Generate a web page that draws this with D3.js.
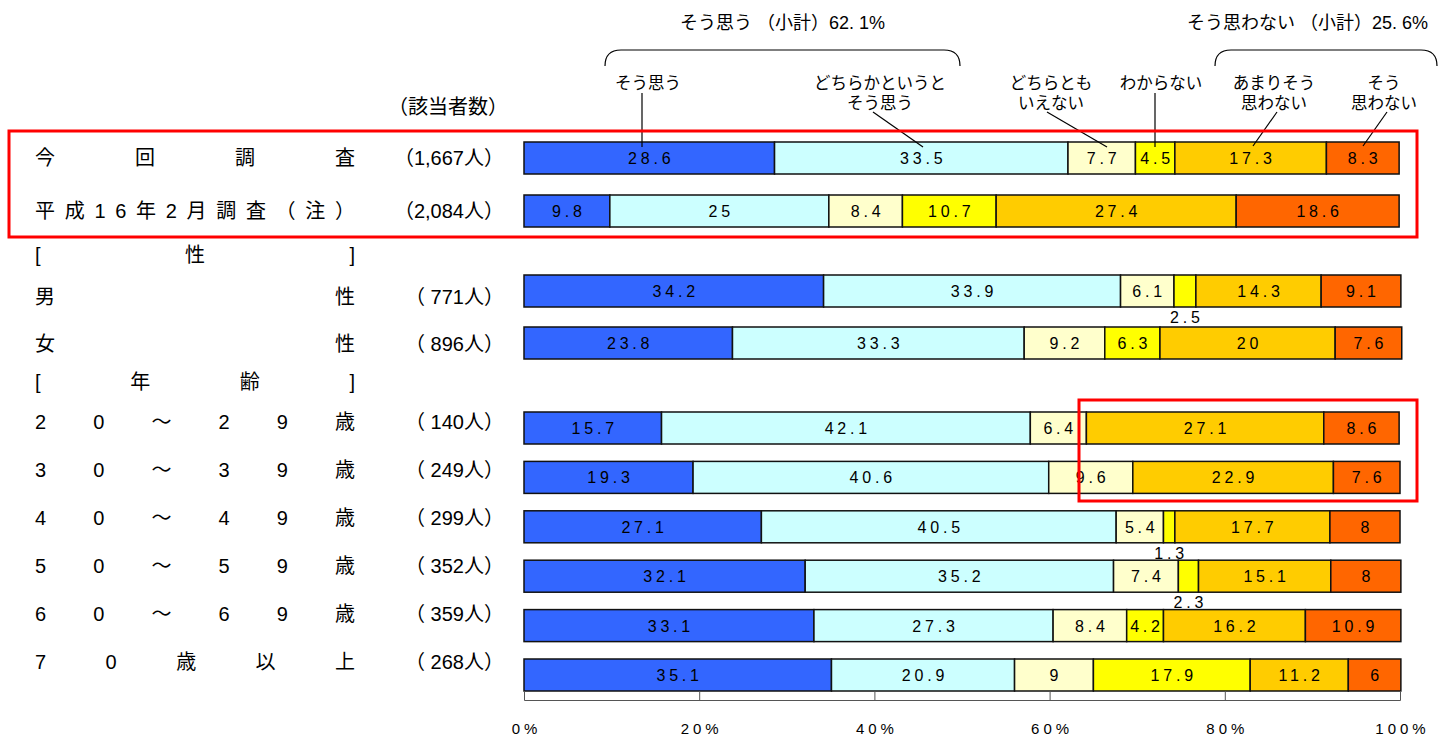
<!DOCTYPE html>
<html><head><meta charset="utf-8">
<script src="https://cdn.jsdelivr.net/npm/d3@7"></script>
<style>
body{margin:0;background:#fff}
svg{display:block}
text{fill:#000}
</style>
</head><body>
<svg id="chart" width="1453" height="740"></svg>
<script>
// ---- data ----
const categories = ["今回調査","平成16年2月調査（注）","男性","女性","20～29歳","30～39歳","40～49歳","50～59歳","60～69歳","70歳以上"];
const counts = ["（1,667人）","（2,084人）","（ 771人）","（ 896人）","（ 140人）","（ 249人）","（ 299人）","（ 352人）","（ 359人）","（ 268人）"];
const seriesNames = ["そう思う","どちらかというとそう思う","どちらともいえない","わからない","あまりそう思わない","そう思わない"];
const soOmou      = [28.6,  9.8, 34.2, 23.8, 15.7, 19.3, 27.1, 32.1, 33.1, 35.1];
const dochiraOmou = [33.5, 25,   33.9, 33.3, 42.1, 40.6, 40.5, 35.2, 27.3, 20.9];
const dochiraMo   = [ 7.7,  8.4,  6.1,  9.2,  6.4,  9.6,  5.4,  7.4,  8.4,  9];
const wakaranai   = [ 4.5, 10.7,  2.5,  6.3,  0,    0,    1.3,  2.3,  4.2, 17.9];
const amari       = [17.3, 27.4, 14.3, 20,   27.1, 22.9, 17.7, 15.1, 16.2, 11.2];
const omowanai    = [ 8.3, 18.6,  9.1,  7.6,  8.6,  7.6,  8,    8,   10.9,  6];
const tickValues = [0, 20, 40, 60, 80, 100];
const groupHeaders = [["[","性","]"], ["[","年","齢","]"]];
const subtotalAgree = "そう思う （小計）62. 1%";
const subtotalDisagree = "そう思わない （小計）25. 6%";

// left-hand row labels, one glyph per token (spread across the label column)
const rowTokens = [
  ["今","回","調","査"],
  ["平","成","1","6","年","2","月","調","査","（","注","）"],
  ["男","性"],
  ["女","性"],
  ["2","0","～","2","9","歳"],
  ["3","0","～","3","9","歳"],
  ["4","0","～","4","9","歳"],
  ["5","0","～","5","9","歳"],
  ["6","0","～","6","9","歳"],
  ["7","0","歳","以","上"]
];

const colors = ["#3366FF","#CCFFFF","#FFFFCC","#FFFF00","#FFCC00","#FF6600"];
const seriesValues = [soOmou, dochiraOmou, dochiraMo, wakaranai, amari, omowanai];

const table = categories.map((c, i) => {
  const row = {category: c, index: i};
  seriesNames.forEach((s, k) => row[s] = seriesValues[k][i]);
  return row;
});

// ---- layout ----
const svg = d3.select("#chart");
const JP = "'Liberation Sans','Noto Sans CJK JP',sans-serif";
const NUM = "'Liberation Sans','DejaVu Sans',sans-serif";

// slot index of each data row (slots 2 and 5 hold the group headers)
const rowSlot = [0, 1, 3, 4, 6, 7, 8, 9, 10, 11];
const headerSlot = [2, 5];
const barY = d3.scaleLinear().domain([0, 1, 3, 4, 6, 11]).range([158, 211, 291, 343, 428, 675]);
const labelY = d3.scaleLinear().domain([0, 1, 2, 3, 4, 5, 6, 11]).range([158, 211, 255, 297, 344, 382, 422, 662]);
const barH = 32;

const x = d3.scaleLinear().domain([0, 100]).range([524, 1400]);
const color = d3.scaleOrdinal().domain(seriesNames).range(colors);

const stacked = d3.stack().keys(seriesNames)(table);

// ---- bars ----
const gBars = svg.append("g");
gBars.selectAll("g.series")
  .data(stacked)
  .join("g")
  .attr("class", "series")
  .attr("fill", d => color(d.key))
  .selectAll("rect")
  .data(d => d.filter(p => p[1] - p[0] > 0))
  .join("rect")
  .attr("x", p => x(p[0]))
  .attr("width", p => x(p[1]) - x(p[0]))
  .attr("y", p => barY(rowSlot[p.data.index]) - barH / 2)
  .attr("height", barH)
  .attr("stroke", "#111")
  .attr("stroke-width", 1.5);

// ---- value labels ----
const LS = 3.8;
const gVals = svg.append("g")
  .attr("font-family", NUM)
  .attr("font-size", 16)
  .attr("letter-spacing", LS + "px")
  .attr("text-anchor", "middle");

stacked.forEach(series => {
  series.forEach(p => {
    const v = p[1] - p[0];
    if (v <= 0) return;
    const cx = (x(p[0]) + x(p[1])) / 2 + LS / 2;
    const cy = barY(rowSlot[p.data.index]);
    const inside = v >= 3;
    gVals.append("text")
      .attr("x", cx)
      .attr("y", inside ? cy + 6 : cy + barH / 2 + 16)
      .text(String(+v.toFixed(1)));
  });
});

// ---- left labels, spread across a fixed column ----
const colLeft = 35, colRight = 355;
function spread(tokens, yCenter) {
  const g = svg.append("g").attr("font-family", JP).attr("font-size", 20);
  const nodes = tokens.map(t => g.append("text").attr("y", yCenter + 7).text(t));
  const widths = nodes.map(n => n.node().getComputedTextLength());
  const total = d3.sum(widths);
  const gap = tokens.length > 1 ? (colRight - colLeft - total) / (tokens.length - 1) : 0;
  let cur = colLeft;
  nodes.forEach((n, i) => { n.attr("x", cur); cur += widths[i] + gap; });
}
rowTokens.forEach((t, i) => spread(t, labelY(rowSlot[i])));
groupHeaders.forEach((t, i) => spread(t, labelY(headerSlot[i])));

// respondent counts
svg.append("g")
  .attr("font-family", JP)
  .attr("font-size", 20)
  .attr("text-anchor", "end")
  .selectAll("text")
  .data(counts)
  .join("text")
  .attr("x", 504)
  .attr("y", (d, i) => labelY(rowSlot[i]) + 7)
  .text(d => d);

svg.append("text")
  .attr("x", 508).attr("y", 114)
  .attr("text-anchor", "end")
  .attr("font-family", JP).attr("font-size", 20)
  .text("（該当者数）");

// ---- axis ----
const axis = d3.axisBottom(x)
  .tickValues(tickValues)
  .tickSize(-9)
  .tickPadding(23)
  .tickFormat(d => d + "%");
const gAxis = svg.append("g").attr("transform", "translate(0,700)").call(axis);
gAxis.select(".domain").attr("stroke", "#555");
gAxis.selectAll(".tick line").attr("stroke", "#555");
gAxis.selectAll(".tick text")
  .attr("font-family", NUM)
  .attr("font-size", 15)
  .attr("letter-spacing", "4px")
  .attr("dx", "2px")
  .attr("fill", "#000");

// ---- category annotations above the bars ----
const gAnn = svg.append("g")
  .attr("font-family", JP)
  .attr("font-size", 16.5)
  .attr("text-anchor", "middle");

const annotations = [
  {lines: [seriesNames[0]], cx: 648, from: [642, 93], to: [642, 147]},
  {lines: ["どちらかというと", "そう思う"], cx: 880, from: [873, 112], to: [923, 147]},
  {lines: ["どちらとも", "いえない"], cx: 1051, from: [1047, 112], to: [1107, 147]},
  {lines: [seriesNames[3]], cx: 1161, from: [1155, 93], to: [1155, 147]},
  {lines: ["あまりそう", "思わない"], cx: 1274, from: [1277, 112], to: [1253, 146]},
  {lines: ["そう", "思わない"], cx: 1384, from: [1387, 112], to: [1363, 146]}
];
annotations.forEach(a => {
  a.lines.forEach((l, k) => {
    gAnn.append("text").attr("x", a.cx).attr("y", 89 + k * 20).text(l);
  });
  svg.append("line")
    .attr("x1", a.from[0]).attr("y1", a.from[1])
    .attr("x2", a.to[0]).attr("y2", a.to[1])
    .attr("stroke", "#000").attr("stroke-width", 1.2);
});

// subtotal braces
function brace(x0, x1) {
  svg.append("path")
    .attr("d", `M${x0},66 Q${x0},50 ${x0 + 16},50 L${x1 - 16},50 Q${x1},50 ${x1},66`)
    .attr("fill", "none").attr("stroke", "#000").attr("stroke-width", 1.2);
}
brace(605, 960);
brace(1215, 1437);

svg.append("text").attr("x", 680).attr("y", 29)
  .attr("font-family", JP).attr("font-size", 18).text(subtotalAgree);
svg.append("text").attr("x", 1187).attr("y", 29)
  .attr("font-family", JP).attr("font-size", 18).text(subtotalDisagree);

// ---- highlight frames ----
svg.append("rect")
  .attr("x", 9).attr("y", 131).attr("width", 1408).attr("height", 106)
  .attr("fill", "none").attr("stroke", "#FF0000").attr("stroke-width", 3);
svg.append("rect")
  .attr("x", 1079).attr("y", 400).attr("width", 338).attr("height", 101)
  .attr("fill", "none").attr("stroke", "#FF0000").attr("stroke-width", 3);
</script>
</body></html>
